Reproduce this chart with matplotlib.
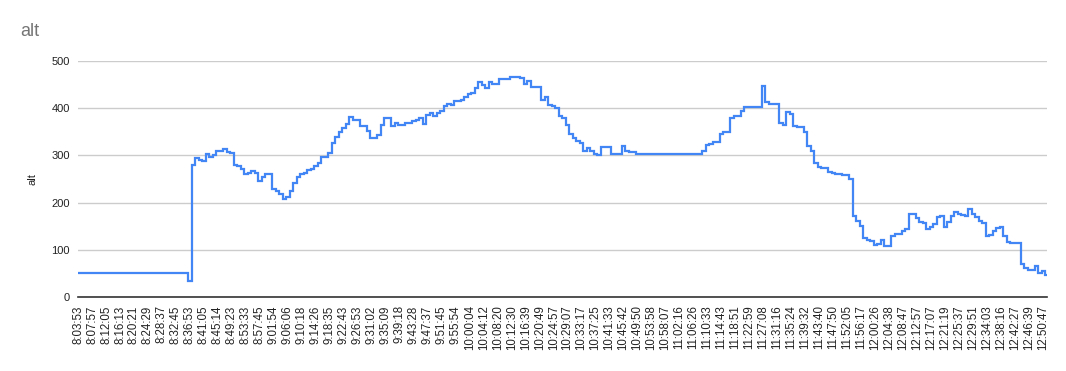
import matplotlib
matplotlib.use("Agg")
import matplotlib.pyplot as plt

# ── Data ──────────────────────────────────────────────────────────────────────
# altitude readings (evenly sampled, 4 samples between each labelled time)
alt = [
    # 0-31: idle before start
    50, 50, 50, 50, 50, 50, 50, 50, 50, 50,
    50, 50, 50, 50, 50, 50, 50, 50, 50, 50,
    50, 50, 50, 50, 50, 50, 50, 50, 50, 50,
    50, 50,
    # 32-56
    33, 280, 295, 291, 289, 302, 297, 300, 309, 310,
    314, 308, 305, 279, 277, 272, 260, 263, 267, 263,
    246, 254, 260, 261, 228,
    # 57-112
    225, 218, 207, 212, 225, 242, 254, 261, 263, 269,
    272, 277, 284, 297, 297, 305, 327, 339, 350, 358,
    367, 381, 376, 374, 363, 362, 351, 337, 336, 344,
    365, 379, 379, 362, 369, 365, 365, 368, 369, 372,
    374, 379, 367, 386, 390, 383, 390, 393, 404, 409,
    407, 416, 416, 418, 423, 430,
    # 113-160
    432, 442, 455, 449, 442, 456, 451, 451, 462, 462,
    462, 467, 467, 467, 465, 451, 458, 445, 445, 445,
    418, 423, 406, 404, 400, 383, 379, 365, 345, 337,
    331, 327, 309, 315, 309, 303, 301, 317, 317, 317,
    304, 304, 303, 320, 310, 307, 307, 304,
    # 161-178: long flat stretch
    304, 304, 304, 304, 304, 304, 304, 303, 303, 303,
    303, 303, 303, 303, 303, 303, 303, 303,
    # 179-223
    309, 322, 324, 329, 329, 345, 350, 350, 379, 384,
    384, 393, 402, 402, 402, 402, 402, 448, 414, 409,
    409, 409, 369, 365, 392, 388, 362, 360, 360, 350,
    320, 309, 284, 276, 274, 274, 265, 263, 260, 261,
    258, 258, 251, 172, 162,
    # 224-277
    151, 126, 121, 119, 110, 112, 121, 107, 107, 130,
    133, 133, 139, 144, 176, 176, 167, 158, 156, 144,
    149, 154, 169, 172, 149, 158, 172, 179, 176, 174,
    171, 186, 176, 169, 162, 156, 130, 132, 140, 147,
    149, 130, 116, 114, 114, 114, 70, 62, 58, 58,
    65, 51, 55, 47,
]

time_labels = [
    "8:03:53", "8:07:57", "8:12:05", "8:16:13", "8:20:21", "8:24:29", "8:28:37",
    "8:32:45", "8:36:53", "8:41:05", "8:45:14", "8:49:23", "8:53:33", "8:57:45",
    "9:01:54", "9:06:06", "9:10:18", "9:14:26", "9:18:35", "9:22:43", "9:26:53",
    "9:31:02", "9:35:09", "9:39:18", "9:43:28", "9:47:37", "9:51:45", "9:55:54",
    "10:00:04", "10:04:12", "10:08:20", "10:12:30", "10:16:39", "10:20:49",
    "10:24:57", "10:29:07", "10:33:17", "10:37:25", "10:41:33", "10:45:42",
    "10:49:50", "10:53:58", "10:58:07", "11:02:16", "11:06:26", "11:10:33",
    "11:14:43", "11:18:51", "11:22:59", "11:27:08", "11:31:16", "11:35:24",
    "11:39:32", "11:43:40", "11:47:50", "11:52:05", "11:56:17", "12:00:26",
    "12:04:38", "12:08:47", "12:12:57", "12:17:07", "12:21:19", "12:25:37",
    "12:29:51", "12:34:03", "12:38:16", "12:42:27", "12:46:39", "12:50:47",
]
LABEL_EVERY = 4
y_ticks = [0, 100, 200, 300, 400, 500]

# ── Style ─────────────────────────────────────────────────────────────────────
plt.rcParams["font.family"] = ["Liberation Sans", "DejaVu Sans"]
C_LINE = "#4285F4"
C_GRID = "#cccccc"
C_TEXT = "#222222"

fig = plt.figure(figsize=(10.66, 3.71), dpi=100)
ax = fig.add_axes([0.0732, 0.1995, 0.9088, 0.6361])

x = list(range(len(alt)))
ax.plot(x, alt, color=C_LINE, linewidth=1.6, drawstyle="steps-mid",
        solid_joinstyle="miter", zorder=3)

ax.set_xlim(0, len(alt) - 1)
ax.set_ylim(0, 500)
ax.set_yticks(y_ticks)
ax.set_yticklabels([str(v) for v in y_ticks], fontsize=8, color=C_TEXT)
ax.set_xticks(list(range(0, LABEL_EVERY * len(time_labels), LABEL_EVERY)))
ax.set_xticklabels(time_labels, rotation=90, fontsize=8.3, color=C_TEXT)
ax.tick_params(axis="both", length=0)
ax.tick_params(axis="x", pad=6)
ax.tick_params(axis="y", pad=6)

ax.grid(axis="y", color=C_GRID, linewidth=1.0, zorder=0)
for side in ("top", "right", "left"):
    ax.spines[side].set_visible(False)
ax.spines["bottom"].set_color("#333333")
ax.spines["bottom"].set_linewidth(1.2)
ax.spines["bottom"].set_zorder(4)

ax.set_ylabel("alt", fontsize=8, color=C_TEXT, labelpad=10)

fig.text(20 / 1066, 1 - 32 / 371, "alt", fontsize=13, color="#757575",
         ha="left", va="center")

fig.savefig("out.png", dpi=100, facecolor="white")
plt.close(fig)
